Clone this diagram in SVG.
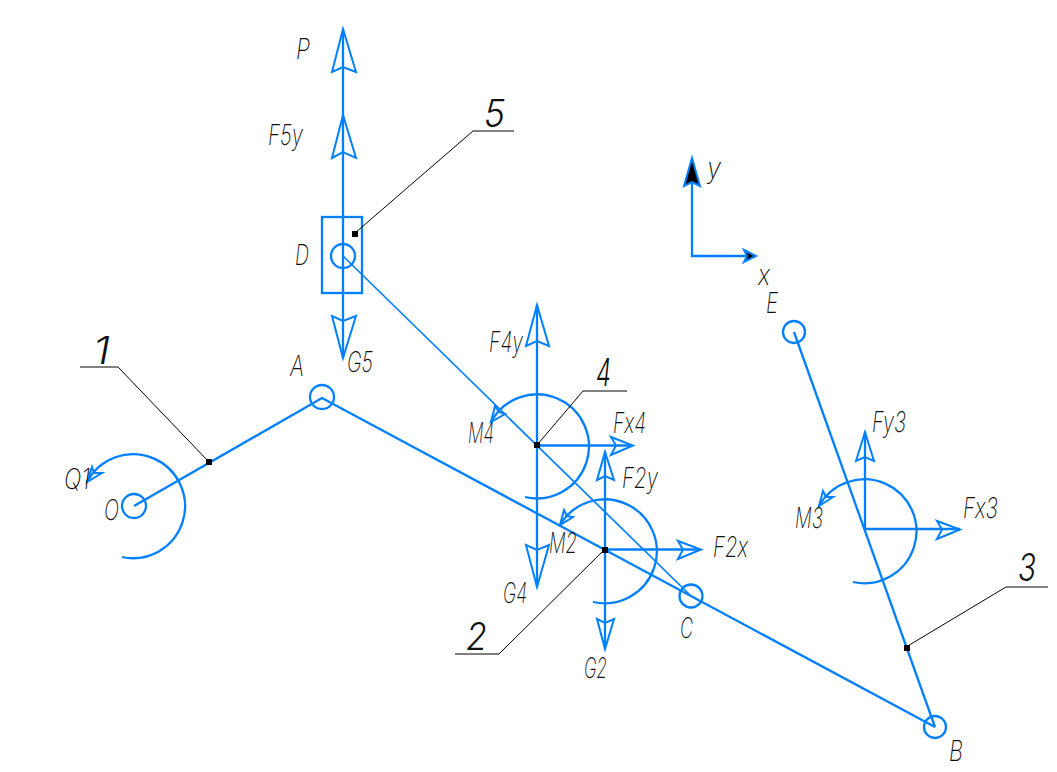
<svg xmlns="http://www.w3.org/2000/svg" width="1057" height="772" viewBox="0 0 1057 772">
<style>
.b{fill:none;stroke:#0080ff;stroke-width:2.300}
.t{stroke-width:1.700}
.h{fill:none;stroke:#0080ff;stroke-width:2;stroke-linejoin:miter}
.k{fill:none;stroke:#000;stroke-width:1}
.u{stroke-width:1.500}
text{font-family:"Inter","Liberation Sans",sans-serif;font-style:italic;font-weight:200;font-size:28px;fill:#111}
.n{font-size:38px;font-weight:300}
</style>
<rect width="1057" height="772" fill="#fff"/>
<g id="connectors">
<path class="b" d="M134 506L322 398L935 727"/>
<path class="b" d="M794 332L935 727"/>
<path class="b t" d="M343 256L691 596"/>
</g>
<g id="joint-O"><circle class="b" cx="134" cy="506" r="12"/><text x="104" y="520" textLength="15" lengthAdjust="spacingAndGlyphs">O</text></g>
<g id="joint-A"><circle class="b" cx="322" cy="397" r="12"/><text x="290" y="376" textLength="14" lengthAdjust="spacingAndGlyphs">A</text></g>
<g id="joint-B"><circle class="b" cx="935" cy="727" r="11"/><text x="949" y="761" textLength="14" lengthAdjust="spacingAndGlyphs">B</text></g>
<g id="joint-C"><circle class="b" cx="691" cy="596" r="11.500"/><text x="680" y="638" textLength="13" lengthAdjust="spacingAndGlyphs">C</text></g>
<g id="joint-D"><rect class="b" x="322" y="217" width="40" height="76"/><circle class="b" cx="343" cy="256" r="12"/><text x="295" y="265" textLength="14" lengthAdjust="spacingAndGlyphs">D</text></g>
<g id="joint-E"><circle class="b" cx="794" cy="332" r="11"/><text x="766" y="313" textLength="12" lengthAdjust="spacingAndGlyphs">E</text></g>
<g id="slider-forces">
<path class="b" d="M343 30V358"/>
<path class="h" d="M332 72L343 29L356 72L343 67Z"/>
<path class="h" d="M332 158L343 115L356 158L343 152Z"/>
<path class="h" d="M332 316L343 358L356 316L343 321Z"/>
<text x="296" y="59" textLength="14" lengthAdjust="spacingAndGlyphs">P</text>
<text x="268" y="145" textLength="35" lengthAdjust="spacingAndGlyphs">F5y</text>
<text x="347" y="372" textLength="26" lengthAdjust="spacingAndGlyphs">G5</text>
</g>
<g id="member-1">
<path class="k" d="M80 367H118L209 462"/>
<rect x="206" y="459" width="6" height="6"/>
<text class="n" x="93" y="364" textLength="17" lengthAdjust="spacingAndGlyphs">1</text>
<path class="b" d="M122 557A52 52 0 1 0 87 482"/>
<path class="h" d="M87 482L92 467L94 473L102 473Z"/>
<text x="64" y="489" textLength="26" lengthAdjust="spacingAndGlyphs">Q1</text>
</g>
<g id="member-5">
<path class="k" d="M514 131H473L355 233"/>
<rect x="352" y="231" width="6" height="6"/>
<text class="n" x="484" y="127" textLength="21" lengthAdjust="spacingAndGlyphs">5</text>
</g>
<g id="member-4">
<path class="b" d="M537 305V587"/>
<path class="b" d="M537 445.500H632"/>
<path class="b" d="M525 497A52 52 0 1 0 491 422"/>
<path class="h" d="M526 346L537 305L549 346L537 341Z"/>
<path class="h" d="M526 545L537 587L549 545L537 550Z"/>
<path class="h" d="M611 437L633 445.500L611 455L616 445.500Z"/>
<path class="h" d="M491 422L495 406L499 412L505 414Z"/>
<path class="k" d="M627 391H583L537 445"/>
<rect x="534" y="442" width="6" height="6"/>
<text class="n" x="596" y="386" textLength="15" lengthAdjust="spacingAndGlyphs">4</text>
<text x="489" y="352" textLength="34" lengthAdjust="spacingAndGlyphs">F4y</text>
<text x="468" y="443" textLength="26" lengthAdjust="spacingAndGlyphs">M4</text>
<text x="613" y="433" textLength="33" lengthAdjust="spacingAndGlyphs">Fx4</text>
<text x="503" y="603" textLength="24" lengthAdjust="spacingAndGlyphs">G4</text>
</g>
<g id="member-2">
<path class="b" d="M605 452V649"/>
<path class="b" d="M605 549.500H700"/>
<path class="b" d="M593 602A52 52 0 1 0 560 525"/>
<path class="h" d="M597 480L605 452L614 480L605 476Z"/>
<path class="h" d="M597 619L605 649L614 619L605 623Z"/>
<path class="h" d="M678 541L701 549.500L678 559L683 549.500Z"/>
<path class="h" d="M560 525L564 510L567 516L573 517Z"/>
<path class="k" d="M455 654H499L605 549"/>
<rect x="602" y="547" width="6" height="6"/>
<text class="n" x="466" y="650" textLength="21" lengthAdjust="spacingAndGlyphs">2</text>
<text x="622" y="488" textLength="36" lengthAdjust="spacingAndGlyphs">F2y</text>
<text x="549" y="553" textLength="28" lengthAdjust="spacingAndGlyphs">M2</text>
<text x="713" y="557" textLength="35" lengthAdjust="spacingAndGlyphs">F2x</text>
<text x="584" y="678" textLength="23" lengthAdjust="spacingAndGlyphs">G2</text>
</g>
<g id="member-3">
<path class="b" d="M865 432V529H960"/>
<path class="b" d="M853 582A52 52 0 1 0 819 506"/>
<path class="h" d="M856 461L865 432L874 461L865 457Z"/>
<path class="h" d="M937 521L960 529.500L937 539L942 529.500Z"/>
<path class="h" d="M819 506L823 491L826 497L833 497Z"/>
<path class="k" d="M1048 587H1006L906 647"/>
<rect x="904" y="645" width="6" height="6"/>
<text class="n" x="1018" y="581" textLength="18" lengthAdjust="spacingAndGlyphs">3</text>
<text x="872" y="432" textLength="34" lengthAdjust="spacingAndGlyphs">Fy3</text>
<text x="795" y="528" textLength="28" lengthAdjust="spacingAndGlyphs">M3</text>
<text x="963" y="518" textLength="35" lengthAdjust="spacingAndGlyphs">Fx3</text>
</g>
<g id="axes">
<path class="b" d="M692 160V256H755"/>
<path d="M684 186L692 158L700 186L692 182Z" stroke="#0080ff" stroke-width="2"/>
<path d="M744 250L756 256L744 262L747 256Z" stroke="#0080ff" stroke-width="2"/>
<text x="707" y="178" textLength="14" lengthAdjust="spacingAndGlyphs">y</text>
<text x="758" y="285" textLength="12" lengthAdjust="spacingAndGlyphs">x</text>
</g>
</svg>
